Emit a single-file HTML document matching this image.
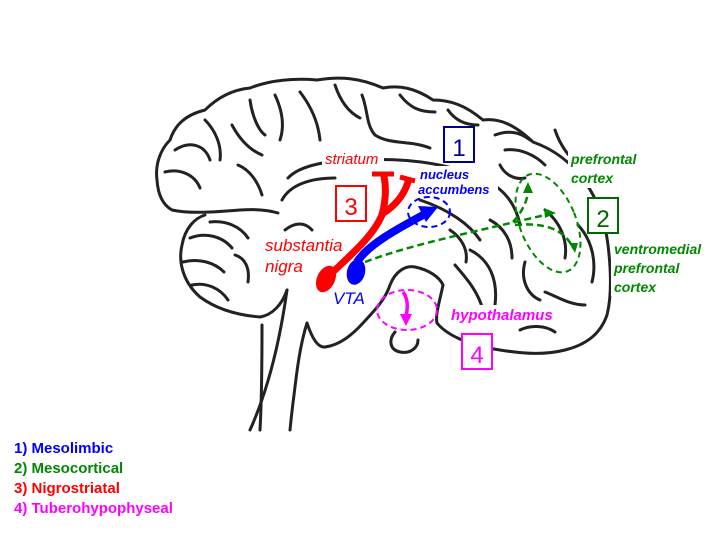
<!DOCTYPE html>
<html><head><style>
body{margin:0;background:#fff;width:720px;height:540px;overflow:hidden}
svg{display:block}
text{font-family:"Liberation Sans",Arial,sans-serif}
</style></head><body>
<svg width="720" height="540" viewBox="0 0 720 540">
<g fill="none" stroke="#222" stroke-width="3" stroke-linecap="round" stroke-linejoin="round">
<path d="M437,323 C445,333 465,345 500,350 C525,354 545,355 565,350 C585,345 600,335 607,315 C612,295 611,270 608,245 C605,220 598,200 585,182 C570,160 550,148 533,142 C515,125 500,118 483,120 C465,105 450,100 433,100 C415,88 400,85 383,88 C360,78 340,76 317,80 C295,78 270,80 250,88 C230,90 215,100 205,110 C185,115 175,125 170,140 C160,150 155,165 157,180 C158,195 163,205 172,210 C190,214 215,212 240,210 C255,209 268,210 278,213"/>
<path d="M205,215 C195,218 185,228 182,245 C178,262 183,282 200,297 C215,308 235,315 260,317 C272,315 282,305 287,290"/>
<path d="M190,238 C205,232 222,236 232,248"/>
<path d="M183,262 C198,258 214,262 224,272"/>
<path d="M192,285 C206,282 220,288 228,300"/>
<path d="M235,255 C245,258 250,268 248,282"/>
<path d="M210,222 C225,220 240,226 248,238"/>
<path d="M287,290 C280,340 268,390 250,430"/>
<path d="M262,325 C262,360 262,395 260,430"/>
<path d="M307,323 C300,345 297,370 294,395 C292,410 291,420 290,430"/>
<path d="M307,323 C312,338 318,348 325,347 C340,345 352,335 363,323 C375,310 385,300 390,285 C395,272 405,265 415,267 C430,270 440,278 443,285"/>
<path d="M443,285 C440,300 435,315 437,323"/>
<path d="M395,332 C388,340 390,350 400,352 C410,354 418,348 418,340"/>
<path d="M288,178 C300,165 330,160 360,160 C400,158 440,162 475,175 C500,185 515,200 520,225"/>
<path d="M282,200 C290,185 310,178 335,178"/>
<path d="M420,200 C450,210 470,225 480,240"/>
<path d="M450,230 C462,238 468,250 466,262"/>
<path d="M470,250 C490,260 498,280 495,305"/>
<path d="M175,150 C190,140 205,145 210,160"/>
<path d="M165,172 C180,168 195,175 200,188"/>
<path d="M205,120 C215,130 222,145 220,160"/>
<path d="M232,125 C240,140 250,150 262,155"/>
<path d="M238,165 C250,170 258,182 262,195"/>
<path d="M250,100 C252,115 258,130 265,135"/>
<path d="M275,95 C282,110 285,125 280,140"/>
<path d="M300,92 C310,105 318,120 320,140"/>
<path d="M335,85 C340,100 348,112 360,118"/>
<path d="M362,95 C368,110 366,125 375,135 C390,145 410,140 430,148"/>
<path d="M400,95 C410,108 420,112 435,112"/>
<path d="M448,110 C455,120 465,125 478,125"/>
<path d="M495,135 C508,130 520,132 530,140"/>
<path d="M505,150 C520,148 535,155 545,165"/>
<path d="M500,165 C505,175 515,180 525,178"/>
<path d="M555,130 C560,145 570,160 585,170"/>
<path d="M545,210 C560,222 568,240 565,258"/>
<path d="M578,225 C592,240 597,262 592,282"/>
<path d="M545,292 C558,297 570,305 585,305"/>
<path d="M520,330 C530,325 545,325 555,332"/>
<path d="M525,262 C520,280 528,295 540,300"/>
<path d="M455,265 C468,280 478,292 483,310"/>
<path d="M490,220 C505,228 512,242 512,258"/>
<path d="M285,230 C295,222 305,222 312,230"/>
</g>
<!-- label backings (behind pathways) -->
<g fill="#fff">
<rect x="322" y="150" width="62" height="18"/>
<rect x="416" y="166" width="82" height="32"/>
<rect x="262" y="236" width="82" height="40"/>
<rect x="330" y="288" width="38" height="20"/>
<rect x="448" y="305" width="108" height="19"/>
<rect x="568" y="150" width="72" height="38"/>
<rect x="611" y="240" width="95" height="56"/>
</g>
<!-- Red nigrostriatal -->
<g fill="none" stroke="#f00" stroke-width="7" stroke-linecap="round">
<path d="M330,275 C350,255 372,238 382,215 C386,200 386,186 384,176"/>
<path d="M382,214 C395,206 404,195 408,182"/>
</g>
<g stroke="#f00" stroke-width="5"><line x1="372" y1="174" x2="394" y2="174"/><line x1="400" y1="177" x2="415" y2="181"/></g>
<ellipse cx="326" cy="279" rx="9" ry="14" transform="rotate(25 326 279)" fill="#f00"/>
<!-- Blue mesolimbic -->
<path d="M357,262 C368,245 395,230 425,214" fill="none" stroke="#00f" stroke-width="8"/>
<polygon points="438,207 418,206 426,222" fill="#00f"/>
<ellipse cx="356" cy="272" rx="9" ry="13" transform="rotate(15 356 272)" fill="#00f"/>
<ellipse cx="429" cy="212" rx="21" ry="15" fill="none" stroke="#00f" stroke-width="2" stroke-dasharray="6,4"/>
<!-- Green mesocortical -->
<g fill="none" stroke="#080" stroke-width="2.5" stroke-dasharray="7,4">
<path d="M365,262 C410,245 460,235 545,215"/>
<path d="M513,222 C522,212 528,200 528,190"/>
<path d="M515,225 C545,222 565,230 573,248"/>
<ellipse cx="548" cy="223" rx="28" ry="52" transform="rotate(-22 548 223)" stroke-width="2" stroke-dasharray="6,4"/>
</g>
<g fill="#080"><polygon points="556,213 544,208 545,218"/><polygon points="528,182 523,193 533,193"/><polygon points="575,253 569,243 578,243"/></g>
<!-- Magenta -->
<ellipse cx="407" cy="310" rx="30" ry="20" fill="none" stroke="#f0f" stroke-width="2" stroke-dasharray="6,4"/>
<path d="M403,292 C408,298 408,308 406,316" fill="none" stroke="#f0f" stroke-width="3.5"/>
<polygon points="400,314 412,314 406,326" fill="#f0f"/>
<!-- Boxes -->
<rect x="444" y="127" width="30" height="35" fill="#fff" stroke="#008" stroke-width="2"/>
<text x="459" y="156" font-size="24" fill="#008" text-anchor="middle">1</text>
<rect x="588" y="198" width="30" height="35" fill="#fff" stroke="#060" stroke-width="2"/>
<text x="603" y="227" font-size="24" fill="#060" text-anchor="middle">2</text>
<rect x="336" y="186" width="30" height="35" fill="#fff" stroke="#f00" stroke-width="2"/>
<text x="351" y="215" font-size="24" fill="#f00" text-anchor="middle">3</text>
<rect x="462" y="334" width="30" height="35" fill="#fff" stroke="#f0f" stroke-width="2"/>
<text x="477" y="363" font-size="24" fill="#f0f" text-anchor="middle">4</text>
<g font-style="italic">
<text x="325" y="164" font-size="15" fill="#f00">striatum</text>
<text x="420" y="179" font-size="13" font-weight="bold" fill="#00f">nucleus</text>
<text x="418" y="194" font-size="13" font-weight="bold" fill="#00f">accumbens</text>
<text x="265" y="251" font-size="17" fill="#f00">substantia</text>
<text x="265" y="272" font-size="17" fill="#f00">nigra</text>
<text x="333" y="304" font-size="17" fill="#00f">VTA</text>
<text x="451" y="320" font-size="15" font-weight="bold" fill="#f0f">hypothalamus</text>
<g font-size="14" font-weight="bold" fill="#080">
<text x="571" y="164">prefrontal</text><text x="571" y="183">cortex</text>
<text x="614" y="254">ventromedial</text><text x="614" y="273">prefrontal</text><text x="614" y="292">cortex</text>
</g>
</g>
<g font-size="15" font-weight="bold">
<text x="14" y="453" fill="#00f">1) Mesolimbic</text>
<text x="14" y="473" fill="#080">2) Mesocortical</text>
<text x="14" y="493" fill="#f00">3) Nigrostriatal</text>
<text x="14" y="513" fill="#f0f">4) Tuberohypophyseal</text>
</g>
</svg>
</body></html>
